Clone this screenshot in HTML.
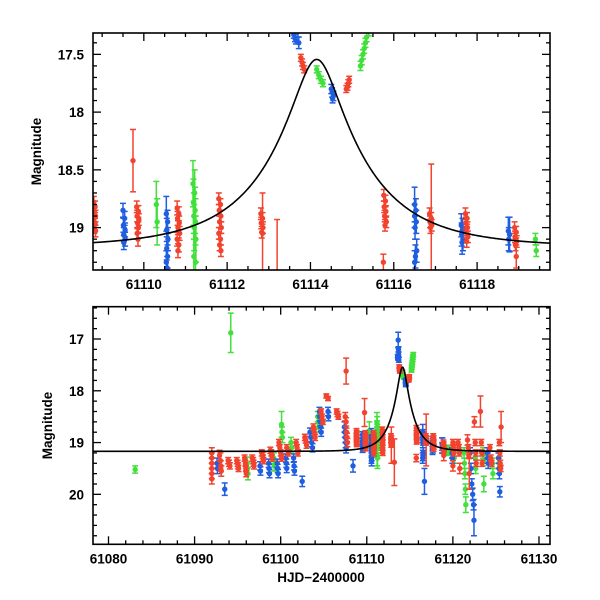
<!DOCTYPE html>
<html><head><meta charset="utf-8"><style>
body{margin:0;background:#fff}
svg{display:block;font-family:"Liberation Sans",sans-serif}
</style></head><body>
<svg id="c" width="600" height="600" viewBox="0 0 600 600">
<defs>
<clipPath id="clipTop"><rect x="93" y="33" width="457" height="237"/></clipPath>
<clipPath id="clipBot"><rect x="93" y="306.7" width="457" height="237.6"/></clipPath>
</defs>
</svg>
<script>
// ---- observations: [time (HJD-2400000), magnitude, error] ----
const redObs=[
[61108.8,18.78,.05],[61108.83,18.82,.05],[61108.81,18.86,.05],[61108.84,18.9,.05],[61108.8,18.93,.05],[61108.83,18.97,.05],[61108.81,19.0,.05],[61108.84,19.03,.05],
[61109.74,18.42,.27],
[61109.83,18.82,.05],[61109.87,18.86,.05],[61109.84,18.9,.05],[61109.88,18.93,.05],[61109.85,18.96,.05],[61109.87,19.0,.05],[61109.84,19.05,.05],[61109.86,19.1,.06],
[61110.8,18.83,.06],[61110.84,18.88,.06],[61110.81,18.92,.06],[61110.85,18.96,.06],[61110.82,19.0,.06],[61110.86,19.05,.06],[61110.8,19.1,.06],[61110.84,19.15,.06],[61110.82,19.2,.06],
[61111.8,18.75,.05],[61111.84,18.8,.05],[61111.81,18.85,.05],[61111.85,18.9,.05],[61111.82,18.95,.05],[61111.86,19.0,.05],[61111.8,19.05,.05],[61111.84,19.1,.05],[61111.82,19.15,.05],[61111.85,19.2,.05],
[61112.81,18.88,.05],[61112.85,18.92,.05],[61112.82,18.96,.05],[61112.86,19.0,.05],[61112.83,19.04,.05],[61112.85,19.05,.35],
[61113.77,17.53,.03],[61113.8,17.57,.03],[61113.82,17.6,.03],[61113.85,17.63,.03],
[61114.86,17.8,.03],[61114.89,17.78,.03],[61114.91,17.75,.03],[61114.93,17.72,.03],
[61115.76,18.72,.05],[61115.8,18.77,.05],[61115.77,18.82,.05],[61115.81,18.86,.05],[61115.78,18.9,.05],[61115.82,18.95,.05],[61115.79,18.98,.05],[61115.75,19.3,.07],
[61116.86,18.88,.05],[61116.9,18.92,.05],[61116.87,18.95,.05],[61116.91,18.98,.05],[61116.88,19.0,.05],[61116.9,18.95,.5],
[61117.72,18.88,.05],[61117.76,18.92,.05],[61117.73,18.96,.05],[61117.77,19.0,.05],[61117.74,19.04,.05],[61117.78,19.08,.05],[61117.75,19.12,.05],
[61118.9,19.0,.05],[61118.94,19.04,.05],[61118.91,19.08,.05],[61118.95,19.12,.05],[61118.92,19.15,.05],[61118.94,19.25,.1],
[61092.0,19.2,.1],[61092.0,19.3,.1],[61092.0,19.4,.1],[61092.0,19.5,.1],[61092.0,19.6,.1],[61092.0,19.7,.1],
[61092.9,19.25,.1],[61093.0,19.35,.15],[61093.05,19.45,.1],[61093.1,19.55,.1],
[61093.9,19.35,.06],[61094.0,19.4,.06],[61094.1,19.45,.06],
[61094.9,19.35,.06],[61095.0,19.4,.06],[61095.05,19.45,.06],[61095.1,19.5,.06],
[61095.8,19.3,.06],[61095.9,19.4,.06],[61095.95,19.5,.06],[61096.0,19.6,.06],
[61096.7,19.3,.06],[61096.8,19.35,.06],[61096.85,19.4,.06],[61096.9,19.45,.06],
[61097.8,19.2,.06],[61097.9,19.25,.06],[61097.95,19.3,.06],[61098.0,19.35,.06],
[61098.8,19.15,.06],[61098.9,19.2,.06],[61099.0,19.3,.06],
[61099.8,19.0,.06],[61099.9,19.1,.06],[61100.0,19.2,.06],[61100.1,19.3,.06],
[61100.7,19.1,.06],[61100.9,19.2,.06],
[61101.8,19.0,.06],[61101.9,19.1,.06],[61102.0,19.2,.06],
[61102.8,18.9,.06],[61102.9,18.95,.06],[61103.0,19.05,.06],
[61103.8,18.7,.06],[61103.9,18.8,.06],[61104.0,18.9,.06],
[61104.7,18.4,.05],[61104.8,18.5,.05],[61104.9,18.6,.05],
[61105.3,18.1,.04],[61105.5,18.15,.04],
[61106.5,18.4,.05],[61106.6,18.45,.05],[61106.7,18.5,.05],
[61107.6,17.62,.25],[61107.5,18.5,.08],[61107.6,18.6,.08],[61107.65,18.8,.08],[61107.7,18.9,.08],[61107.75,19.0,.08],
[61113.2,19.38,.45],
[61120.0,19.0,.06],[61120.05,19.1,.06],[61120.1,19.2,.06],[61120.0,19.45,.1],
[61120.6,19.0,.06],[61120.7,19.1,.06],[61120.75,19.2,.06],[61120.8,19.5,.1],
[61121.7,18.95,.1],[61121.8,19.1,.06],[61121.85,19.25,.06],[61121.9,19.6,.3],
[61122.5,18.6,.1],[61122.6,19.0,.06],[61122.65,19.2,.06],[61122.7,19.4,.06],
[61123.2,18.4,.3],[61123.3,19.0,.06],[61123.35,19.2,.06],[61123.4,19.4,.06],
[61124.3,19.1,.06],[61124.4,19.3,.06],[61124.5,19.4,.06],
[61125.4,19.0,.06],[61125.45,19.2,.06],[61125.5,19.4,.06],[61125.55,19.5,.06],[61125.6,18.7,.3]
];
const blueObs=[
[61109.5,18.85,.06],[61109.54,18.92,.06],[61109.51,18.98,.06],[61109.55,19.02,.06],[61109.52,19.06,.06],[61109.55,19.1,.06],[61109.52,19.13,.06],
[61110.54,18.88,.15],[61110.57,18.95,.1],[61110.55,19.02,.1],[61110.58,19.1,.1],[61110.55,19.18,.1],[61110.57,19.25,.1],[61110.54,19.3,.1],[61110.56,19.35,.1],
[61113.6,17.33,.03],[61113.63,17.36,.03],[61113.65,17.38,.03],
[61114.5,17.8,.04],[61114.52,17.83,.04],[61114.55,17.86,.04],[61114.53,17.88,.04],
[61116.5,18.8,.15],[61116.53,18.85,.1],[61116.5,18.9,.1],[61116.54,18.95,.1],[61116.51,19.0,.1],[61116.55,19.2,.1],[61116.52,19.25,.1],[61116.5,19.3,.1],
[61117.62,18.98,.1],[61117.65,19.02,.1],[61117.63,19.06,.1],[61117.66,19.1,.1],[61117.64,19.13,.1],
[61118.75,19.03,.12],[61118.78,19.06,.15],[61118.76,19.1,.1],
[61092.6,19.4,.1],[61092.65,19.5,.1],[61093.5,19.9,.12],
[61097.6,19.45,.08],[61097.65,19.55,.08],
[61098.6,19.4,.08],[61098.65,19.5,.08],[61098.7,19.6,.08],
[61099.6,19.4,.08],[61099.65,19.5,.08],[61099.7,19.6,.08],
[61100.6,19.3,.08],[61100.65,19.4,.08],[61100.7,19.5,.08],
[61101.5,19.3,.08],[61101.55,19.45,.08],[61101.6,19.55,.08],
[61102.5,19.75,.1],
[61103.4,18.8,.08],[61103.5,18.9,.08],[61103.6,19.0,.08],[61103.7,19.1,.08],
[61104.5,18.4,.08],[61104.55,18.5,.08],[61104.6,18.6,.08],[61104.65,18.7,.08],[61104.7,18.8,.08],
[61105.5,18.4,.08],[61105.55,18.5,.08],
[61107.4,18.7,.1],[61107.45,18.8,.1],[61107.5,18.9,.1],[61107.55,19.0,.1],[61107.6,19.1,.1],
[61108.4,19.45,.12],
[61113.65,17.02,.15],[61113.68,17.2,.05],[61113.7,17.3,.05],[61113.72,17.4,.05],
[61116.7,19.75,.25],
[61119.9,19.2,.1],[61119.95,19.3,.1],
[61122.0,19.2,.1],[61122.1,19.5,.1],[61122.2,19.8,.1],[61122.3,20.0,.12],[61122.4,20.2,.1],[61122.45,20.5,.3],
[61124.0,19.2,.1],[61124.05,19.3,.1],[61124.1,19.4,.1],
[61125.3,19.3,.1],[61125.35,19.5,.1],[61125.4,19.6,.1],[61125.45,19.95,.1]
];
const greenObs=[
[61110.3,18.8,.2],[61110.32,18.95,.2],
[61111.18,18.62,.2],[61111.22,18.7,.2],[61111.19,18.78,.2],[61111.23,18.85,.2],[61111.2,18.9,.2],[61111.24,18.95,.2],[61111.21,19.0,.2],[61111.25,19.1,.2],[61111.2,19.25,.2],[61111.24,19.3,.2],
[61114.15,17.63,.03],[61114.2,17.68,.03],[61114.25,17.72,.03],[61114.3,17.75,.03],
[61115.2,17.6,.04],[61115.23,17.55,.04],[61115.26,17.5,.04],[61115.29,17.45,.04],[61115.32,17.4,.04],[61115.35,17.35,.04],[61115.4,17.3,.04],
[61119.4,19.1,.05],[61119.42,19.2,.05],
[61083.1,19.52,.07],[61094.2,16.88,.38],
[61096.1,19.4,.12],[61096.15,19.5,.12],[61096.2,19.6,.12],
[61099.2,19.3,.1],[61099.25,19.45,.1],
[61100.1,18.65,.25],[61100.15,18.8,.1],[61100.2,18.9,.1],
[61101.2,19.0,.1],[61101.25,19.1,.1],
[61104.3,18.5,.1],[61104.35,18.6,.1],[61104.4,18.7,.1],
[61120.1,19.2,.1],[61120.15,19.3,.1],
[61121.3,19.2,.1],[61121.35,19.4,.1],[61121.4,19.6,.1],[61121.45,19.9,.1],[61121.5,20.2,.15],
[61122.6,19.3,.1],[61122.65,19.5,.1],
[61123.5,19.2,.1],[61123.55,19.35,.1],[61123.6,19.8,.15],
[61124.6,19.4,.1],[61124.65,19.6,.1],
[61125.3,19.3,.1],[61125.35,19.4,.1]
];
// model parameters (Paczynski curve)
const modelT0=61114.15, modelTE=2.3, modelU0=0.228, modelBase=19.17;
const topXTicks=[61110,61112,61114,61116,61118];
const topYTicks=[17.5,18,18.5,19];
const botXTicks=[61080,61090,61100,61110,61120,61130];
const botYTicks=[17,18,19,20];

const NS="http://www.w3.org/2000/svg";
const svg=document.getElementById('c');
function mk(tag,attrs,parent){const e=document.createElementNS(NS,tag);for(const k in attrs)e.setAttribute(k,attrs[k]);(parent||svg).appendChild(e);return e;}

const panels=[
 {key:'top',x0:61108.78,x1:61119.75,y0:17.315,y1:19.367,L:93,R:550,T:33,B:270,clip:'clipTop',
  xt:topXTicks,xminor:0.5,yt:topYTicks,yminor:0.1},
 {key:'bottom',x0:61078.2,x1:61131.28,y0:16.376,y1:20.965,L:93,R:550,T:306.7,B:544.3,clip:'clipBot',
  xt:botXTicks,xminor:2,yt:botYTicks,yminor:0.2}
];
function model(t){const u=Math.sqrt(modelU0*modelU0+Math.pow((t-modelT0)/modelTE,2));const A=(u*u+2)/(u*Math.sqrt(u*u+4));return modelBase-2.5*Math.log10(A);}
const series=[{name:'green',c:'#41e03a',obs:greenObs},{name:'blue',c:'#1f5ee0',obs:blueObs},{name:'red',c:'#f2432f',obs:redObs}];

panels.forEach(p=>{
 const sx=t=>p.L+(t-p.x0)/(p.x1-p.x0)*(p.R-p.L);
 const sy=m=>p.T+(m-p.y0)/(p.y1-p.y0)*(p.B-p.T);
 const g=mk('g',{'clip-path':'url(#'+p.clip+')'});
 
 
 series.forEach(s=>{
  const sg=mk('g',{fill:s.c,stroke:s.c,'stroke-width':1.5},g);
  
  
  s.obs.forEach(o=>{
   const x=sx(o[0]),y=sy(o[1]),ya=sy(o[1]-o[2]),yb=sy(o[1]+o[2]);
   const pt=mk('g',{},sg);
   
   
   mk('line',{x1:x,x2:x,y1:ya,y2:yb},pt);
   mk('line',{x1:x-3,x2:x+3,y1:ya,y2:ya},pt);
   mk('line',{x1:x-3,x2:x+3,y1:yb,y2:yb},pt);
   mk('circle',{cx:x,cy:y,r:2.7,stroke:'none'},pt);
  });
 });
 let d='';for(let i=0;i<=600;i++){const t=p.x0+(p.x1-p.x0)*i/600;d+=(i?'L':'M')+sx(t).toFixed(2)+','+sy(model(t)).toFixed(2);}
 const cv=mk('path',{d:d,fill:'none',stroke:'#000','stroke-width':1.6},g);
 
 
 const fr=mk('rect',{x:p.L,y:p.T,width:p.R-p.L,height:p.B-p.T,fill:'none',stroke:'#000','stroke-width':1.6});
 
 
 const ax=mk('g',{stroke:'#000','stroke-width':1.3});
 
 
 const isMajor=(v,arr,step)=>arr.some(a=>Math.abs(a-v)<step*0.01);
 const xs=Math.ceil(p.x0/p.xminor)*p.xminor;
 for(let v=xs;v<=p.x1;v+=p.xminor){const maj=isMajor(v,p.xt,p.xminor);const len=maj?8:4;const x=sx(v);
  mk('line',{x1:x,x2:x,y1:p.B,y2:p.B-len},ax);mk('line',{x1:x,x2:x,y1:p.T,y2:p.T+len},ax);}
 const ys=Math.ceil(p.y0/p.yminor)*p.yminor;
 for(let v=ys;v<=p.y1;v+=p.yminor){const maj=isMajor(v,p.yt,p.yminor);const len=maj?8:4;const y=sy(v);
  mk('line',{x1:p.L,x2:p.L+len,y1:y,y2:y},ax);mk('line',{x1:p.R,x2:p.R-len,y1:y,y2:y},ax);}
 p.xt.forEach(v=>{const t=mk('text',{x:sx(v),y:p.B+19,'text-anchor':'middle','font-size':13.5,'font-weight':'bold'});t.textContent=v;
  
  });
 p.yt.forEach(v=>{const t=mk('text',{x:p.L-9,y:sy(v)+5,'text-anchor':'end','font-size':13.5,'font-weight':'bold'});t.textContent=String(v);
  
  });
 const yl=mk('text',{x:0,y:0,transform:'translate('+(p.key==='top'?41:52)+','+((p.T+p.B)/2)+') rotate(-90)','text-anchor':'middle','font-size':13.5,'font-weight':'bold'});
 yl.textContent='Magnitude';
 
 
});
const xl=mk('text',{x:321,y:582,'text-anchor':'middle','font-size':13.5,'font-weight':'bold'});
xl.textContent='HJD\u22122400000';


</script>
</body></html>
